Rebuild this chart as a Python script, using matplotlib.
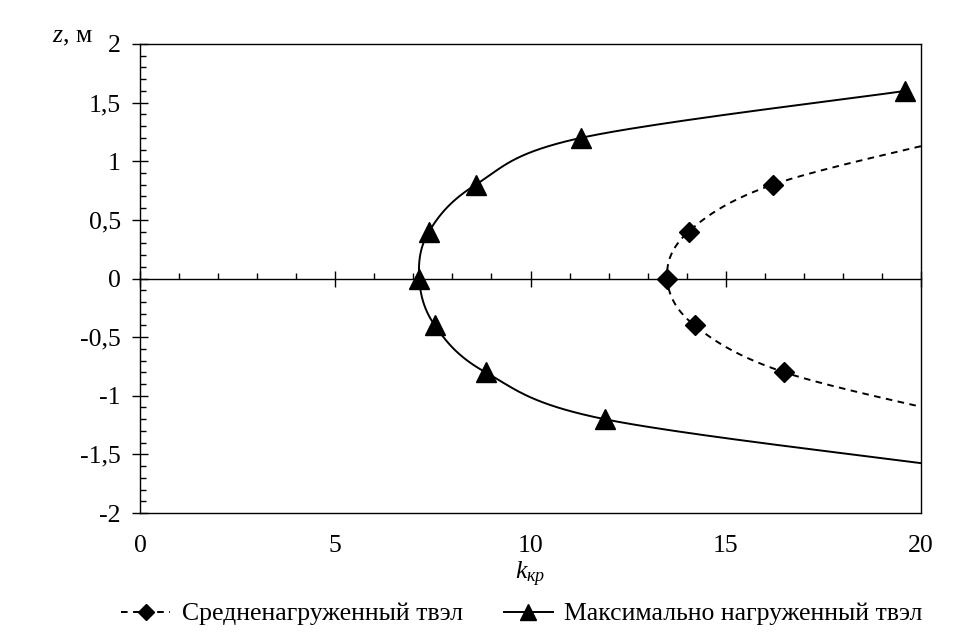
import numpy as np
import matplotlib
matplotlib.use("Agg")
import matplotlib.pyplot as plt
from matplotlib.lines import Line2D
from matplotlib.ticker import MultipleLocator, FuncFormatter

# --- data (z in m, k_kr) ---
# maximally loaded rod (triangles); last point lies beyond the axis and is clipped
Z_MAX = [1.6, 1.2, 0.8, 0.4, 0.0, -0.4, -0.8, -1.2, -1.6]
K_MAX = [19.6, 11.3, 8.6, 7.4, 7.15, 7.55, 8.85, 11.9, 20.6]
# average loaded rod (diamonds); end points beyond x=20 are clipped
Z_AVG = [1.2, 0.8, 0.4, 0.0, -0.4, -0.8, -1.2]
K_AVG = [20.9, 16.2, 14.05, 13.5, 14.2, 16.5, 21.4]

X_TICKS = [0, 5, 10, 15, 20]

LABEL_AVG = "Средненагруженный твэл"
LABEL_MAX = "Максимально нагруженный твэл"

FS = 18.5

plt.rcParams['font.family'] = ['Liberation Serif', 'DejaVu Serif']
plt.rcParams['mathtext.fontset'] = 'custom'
plt.rcParams['mathtext.rm'] = 'Liberation Serif'
plt.rcParams['mathtext.it'] = 'Liberation Serif:italic'


def smooth(xs, ys, sx=39.0, sy=117.25, n=40):
    """Excel-like smoothed line: cubic Bezier through points, computed in pixel-ish units."""
    P = np.column_stack([np.asarray(xs) * sx, np.asarray(ys) * sy])
    out = []
    for i in range(len(P) - 1):
        p0 = P[i - 1] if i > 0 else P[i]
        p1, p2 = P[i], P[i + 1]
        p3 = P[i + 2] if i + 2 < len(P) else P[i + 1]
        c1 = p1 + (p2 - p0) / 6.0
        c2 = p2 - (p3 - p1) / 6.0
        t = np.linspace(0, 1, n)[:, None]
        seg = ((1 - t) ** 3) * p1 + 3 * ((1 - t) ** 2) * t * c1 + 3 * (1 - t) * t ** 2 * c2 + t ** 3 * p2
        out.append(seg if i == 0 else seg[1:])
    out = np.vstack(out)
    return out[:, 0] / sx, out[:, 1] / sy


fig = plt.figure(figsize=(9.7, 6.44), dpi=100)
ax = fig.add_axes([140 / 970, 1 - 513 / 644, 781 / 970, 469 / 644])

LW = 1.4
DASH = (3.4, 2.8)

xs, ys = smooth(K_MAX, Z_MAX)
ax.plot(xs, ys, color='black', lw=LW)
ax.plot(K_MAX, Z_MAX, ls='none', marker='^', ms=15, color='black')

xs, ys = smooth(K_AVG, Z_AVG)
ax.plot(xs, ys, color='black', lw=LW, ls=(0, DASH))
ax.plot(K_AVG, Z_AVG, ls='none', marker='D', ms=10.5, color='black')

ax.set_xlim(0, 20)
ax.set_ylim(-2, 2)

fmt = FuncFormatter(lambda v, p: f"{v:g}".replace('.', ','))

# y axis
ax.yaxis.set_major_locator(MultipleLocator(0.5))
ax.yaxis.set_minor_locator(MultipleLocator(0.1))
ax.yaxis.set_major_formatter(fmt)
ax.tick_params(axis='y', which='major', direction='inout', length=11.5, width=1.0,
               labelsize=FS, pad=8)
ax.tick_params(axis='y', which='minor', direction='in', length=4.5, width=1.0)

# x axis crosses at z = 0, labels stay at the bottom
ax.spines['bottom'].set_position(('data', 0))
ax.xaxis.set_major_locator(MultipleLocator(5))
ax.xaxis.set_minor_locator(MultipleLocator(1))
ax.tick_params(axis='x', which='major', direction='inout', length=11.5, width=1.0,
               labelbottom=False)
ax.tick_params(axis='x', which='minor', direction='in', length=4.5, width=1.0)
for s in ax.spines.values():
    s.set_linewidth(1.0)

secx = ax.secondary_xaxis(0)
secx.set_xticks(X_TICKS)
secx.xaxis.set_major_formatter(fmt)
secx.tick_params(axis='x', which='both', length=0, labelsize=FS, pad=16)
secx.spines['bottom'].set_linewidth(1.0)
secx.set_xlabel(r"$k_{кр}$", fontsize=FS, labelpad=2)

ax.text(-0.087, 1.015, r"$z$, м", transform=ax.transAxes, fontsize=FS,
        ha='center', va='center')

handles = [
    Line2D([], [], color='black', lw=LW, ls=(0, DASH), marker='D', ms=8),
    Line2D([], [], color='black', lw=LW, marker='^', ms=11),
]
fig.legend(handles, [LABEL_AVG, LABEL_MAX], loc='center', ncol=2, frameon=False,
           bbox_to_anchor=(0.538, 1 - 614 / 644), fontsize=FS, handlelength=1.9,
           handletextpad=0.45, columnspacing=1.6)

fig.savefig("out.png", dpi=100)
